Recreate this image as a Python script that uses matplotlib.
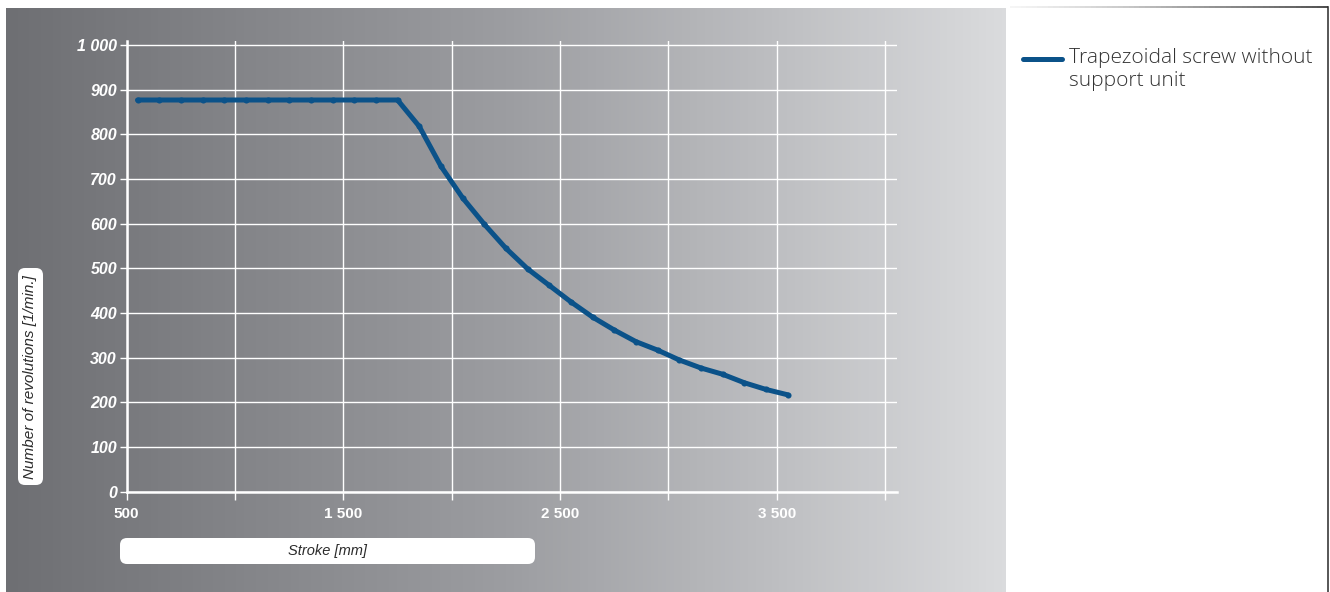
import numpy as np
import matplotlib.pyplot as plt
from matplotlib.patches import FancyBboxPatch
from matplotlib.lines import Line2D
from matplotlib.collections import LineCollection
from matplotlib.colors import LinearSegmentedColormap

# data
stroke_mm = [550, 650, 750, 850, 950, 1050, 1150, 1250, 1350, 1450, 1550, 1650, 1750,
             1850, 1950, 2050, 2150, 2250, 2350, 2450, 2550, 2650, 2750, 2850,
             2950, 3050, 3150, 3250, 3350, 3450, 3550]
revolutions = [877, 877, 877, 877, 877, 877, 877, 877, 877, 877, 877, 877, 877,
               818, 729, 658, 599, 545, 499, 462, 425, 391, 362, 336,
               317, 295, 277, 263, 244, 229, 217]
series_name = "Trapezoidal screw without\nsupport unit"

x_ticks = [500, 1000, 1500, 2000, 2500, 3000, 3500, 4000]
x_tick_labels = ["500", "", "1 500", "", "2 500", "", "3 500", ""]
y_ticks = [0, 100, 200, 300, 400, 500, 600, 700, 800, 900, 1000]
y_tick_labels = ["0", "100", "200", "300", "400", "500", "600", "700", "800", "900", "1 000"]

W, H, DPI = 1330, 592, 100
sans = ["Liberation Sans", "DejaVu Sans"]
line_color = "#0b5289"

fig = plt.figure(figsize=(W / DPI, H / DPI), dpi=DPI, facecolor="white")


def px_rect(x0, y0, x1, y1):
    # pixel box (top-left origin) -> figure fraction [l, b, w, h]
    return [x0 / W, (H - y1) / H, (x1 - x0) / W, (y1 - y0) / H]


# gradient background
bg = fig.add_axes(px_rect(6, 8, 1006, 592))
grad = np.linspace(0, 1, 256).reshape(1, -1)
cmap = LinearSegmentedColormap.from_list("g", ["#6e6f73", "#9c9da1", "#dadbdd"])
bg.imshow(grad, aspect="auto", cmap=cmap, extent=[0, 1, 0, 1])
bg.set_axis_off()

# right panel frame
fig.add_artist(Line2D([1328 / W, 1328 / W], [0, (H - 7) / H], color="#3a3a3a", lw=1.2))
xs = np.linspace(1010, 1328, 60)
segs = [[(xs[i] / W, (H - 7) / H), (xs[i + 1] / W, (H - 7) / H)] for i in range(len(xs) - 1)]
cols = plt.cm.Greys(np.linspace(0.1, 0.85, len(segs)))
fig.add_artist(LineCollection(segs, colors=cols, linewidths=1.2, transform=fig.transFigure))

# main plot
ax = fig.add_axes(px_rect(126.7, 40.6, 897, 491.7))
ax.patch.set_alpha(0)
ax.plot(stroke_mm, revolutions, color=line_color, lw=3.6, marker="o", ms=4.4, mew=0,
        solid_capstyle="round", solid_joinstyle="round", zorder=5)
ax.set_xlim(500, 4055)
ax.set_ylim(0, 1010)

ax.set_xticks(x_ticks, x_tick_labels)
ax.set_yticks(y_ticks, y_tick_labels)
ax.grid(True, color="white", lw=1.0)
ax.set_axisbelow(True)
for s in ["top", "right"]:
    ax.spines[s].set_visible(False)
for s in ["left", "bottom"]:
    ax.spines[s].set_color("white")
    ax.spines[s].set_linewidth(1.8)
ax.tick_params(axis="x", colors="white", length=6, width=1, pad=5)
ax.tick_params(axis="y", colors="white", length=5, width=1, pad=2)
for lab in ax.get_xticklabels():
    lab.set_family(sans)
    lab.set_fontweight("bold")
    lab.set_fontsize(11)
for lab in ax.get_yticklabels():
    lab.set_family(sans)
    lab.set_fontweight("bold")
    lab.set_fontstyle("italic")
    lab.set_fontsize(11.5)

# axis title boxes
ins = fig.dpi_scale_trans
fig.patches.append(FancyBboxPatch((0.18, (H - 485) / DPI), 0.25, 2.17,
                                  boxstyle="round,pad=0,rounding_size=0.07",
                                  fc="white", ec="none", transform=ins, figure=fig))
fig.text(30.5 / W, (H - 377) / H, "Number of revolutions [1/min.]", rotation=90,
         ha="center", va="center", fontsize=11, style="italic", family=sans,
         color="#2b2b2b")
fig.patches.append(FancyBboxPatch((1.20, (H - 564) / DPI), 4.15, 0.26,
                                  boxstyle="round,pad=0,rounding_size=0.07",
                                  fc="white", ec="none", transform=ins, figure=fig))
fig.text(327 / W, (H - 551) / H, "Stroke [mm]", ha="center", va="center",
         fontsize=10.5, style="italic", family=sans, color="#2b2b2b")

# legend
fig.add_artist(Line2D([1023 / W, 1062 / W], [(H - 59) / H, (H - 59) / H],
                      color=line_color, lw=3.6, solid_capstyle="round"))
fig.text(1069 / W, (H - 86) / H, series_name, ha="left", va="baseline",
         fontsize=15, family=["Open Sans", "Liberation Sans", "DejaVu Sans"],
         fontweight="light", color="#333333", linespacing=1.17)

fig.savefig("out.png", dpi=DPI, facecolor="white")
